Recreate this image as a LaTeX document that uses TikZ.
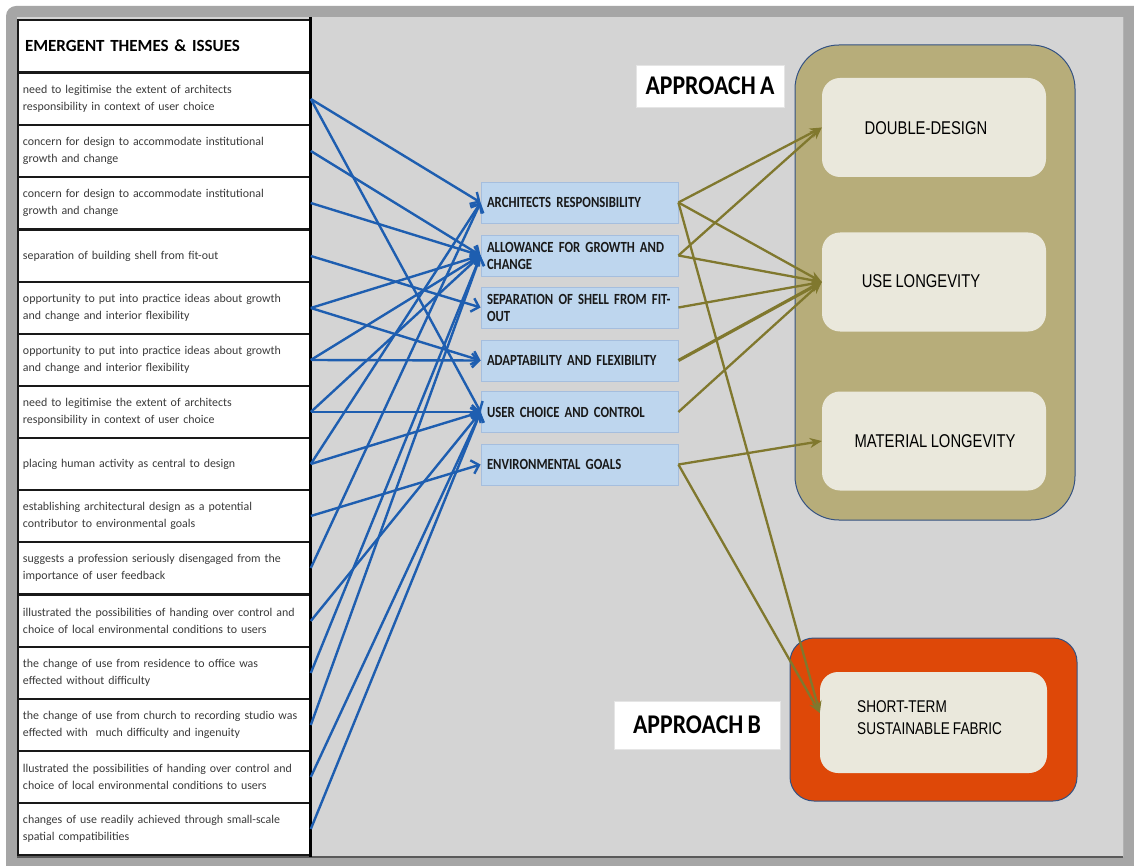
\documentclass[tikz,border=0pt]{standalone}
\usepackage{fontspec}
\setmainfont{Carlito}
\newfontfamily\boxfont{Carlito}[FakeStretch=0.82,WordSpace=0.55]
\newfontfamily\labelfont{Carlito}[FakeStretch=0.88,WordSpace=0.8]
\newfontfamily\headfont{Carlito}[WordSpace=0.75]
\newfontfamily\capfont{Liberation Sans}[FakeStretch=0.8,WordSpace=0.8]
\usetikzlibrary{arrows.meta}

\definecolor{framegray}{RGB}{166,166,166}
\definecolor{canvas}{RGB}{212,212,212}
\definecolor{linkblue}{RGB}{30,94,176}
\definecolor{linkolive}{RGB}{128,120,46}
\definecolor{themefill}{RGB}{190,214,238}
\definecolor{themeedge}{RGB}{165,190,222}
\definecolor{khaki}{RGB}{183,173,122}
\definecolor{cream}{RGB}{234,232,220}
\definecolor{burnt}{RGB}{222,72,8}
\definecolor{rim}{RGB}{52,82,130}
\definecolor{celltext}{RGB}{58,58,58}

\begin{document}
\begin{tikzpicture}[x=1pt,y=-1pt,
  cell/.style={draw=black!90, line width=1.6pt, fill=white,
    minimum width=292pt, minimum height=52pt, text width=282pt,
    inner xsep=5pt, inner ysep=0pt, align=left,
    font=\fontsize{11.9}{17}\selectfont, text=celltext},
  theme/.style={draw=themeedge, line width=0.8pt, fill=themefill,
    minimum width=197pt, minimum height=41pt, text width=185pt,
    inner xsep=6pt, inner ysep=0pt, align=left,
    font=\boxfont\bfseries\fontsize{15.5}{17}\selectfont, text=black!90},
  group/.style={draw=rim, line width=1pt, inner sep=0pt},
  sub/.style={fill=cream, rounded corners=18pt, minimum width=224pt,
    minimum height=99pt, inner sep=0pt},
  subtext/.style={font=\capfont\fontsize{18.5}{22}\selectfont, text=black,
    inner sep=0pt, align=left},
  tag/.style={fill=white, draw=black!10, line width=0.5pt, inner sep=0pt,
    font=\labelfont\bfseries\fontsize{27}{30}\selectfont},
  blink/.style={draw=linkblue, line width=2.4pt,
    -{Straight Barb[length=7pt,width=14pt]}},
  olink/.style={draw=linkolive, line width=2.3pt,
    -{Stealth[length=12pt,width=10pt]}}
]
\useasboundingbox (0,0) rectangle (1134,866);

% frame and canvas
\fill[white] (0,0) rectangle (1134,866);
\fill[framegray, rounded corners=10pt] (6,6) rectangle (1150,880);
\fill[canvas] (17,17) rectangle (1123,857);
\draw[black!65, line width=1.5pt] (17,857) -- (1123,857);
\draw[black!30, line width=1pt] (1123,17) -- (1123,857);

% themes column
\node[cell, inner xsep=7pt, text width=278pt, font=\headfont\bfseries\fontsize{17}{20}\selectfont, text=black] (hd) at (164,46) {EMERGENT THEMES \& ISSUES};
\node[cell] (r1)  at (164,99)  {need to legitimise the extent of architects\\responsibility in context of user choice};
\node[cell] (r2)  at (164,151) {concern for design to accommodate institutional\\growth and change};
\node[cell] (r3)  at (164,203) {concern for design to accommodate institutional\\growth and change};
\node[cell] (r4)  at (164,256) {separation of building shell from fit-out};
\node[cell] (r5)  at (164,308) {opportunity to put into practice ideas about growth\\and change and interior flexibility};
\node[cell] (r6)  at (164,360) {opportunity to put into practice ideas about growth\\and change and interior flexibility};
\node[cell] (r7)  at (164,412) {need to legitimise the extent of architects\\responsibility in context of user choice};
\node[cell] (r8)  at (164,464) {placing human activity as central to design};
\node[cell] (r9)  at (164,516) {establishing architectural design as a potential\\contributor to environmental goals};
\node[cell] (r10) at (164,568) {suggests a profession seriously disengaged from the\\importance of user feedback};
\node[cell] (r11) at (164,621) {illustrated the possibilities of handing over control and\\choice of local environmental conditions to users};
\node[cell] (r12) at (164,673) {the change of use from residence to office was\\effected without difficulty};
\node[cell] (r13) at (164,725) {the change of use from church to recording studio was\\effected with\ \ much difficulty and ingenuity};
\node[cell] (r14) at (164,777) {llustrated the possibilities of handing over control and\\choice of local environmental conditions to users};
\node[cell] (r15) at (164,829) {changes of use readily achieved through small-scale\\spatial compatibilities};
\draw[black, line width=3pt] (310,17) -- (310,857);

% design concerns
\node[theme] (ar) at (579.5,202.5) {ARCHITECTS RESPONSIBILITY};
\node[theme] (ag) at (579.5,255.5) {ALLOWANCE FOR GROWTH AND\\CHANGE};
\node[theme] (ss) at (579.5,307.5) {SEPARATION OF SHELL FROM FIT-\\OUT};
\node[theme] (af) at (579.5,360.5) {ADAPTABILITY AND FLEXIBILITY};
\node[theme] (uc) at (579.5,412)   {USER CHOICE AND CONTROL};
\node[theme] (eg) at (579.5,464.5) {ENVIRONMENTAL GOALS};

% approach A
\node[tag, minimum width=148pt, minimum height=42pt] (lblA) at (710,86) {APPROACH A};
\node[group, fill=khaki, rounded corners=44pt, minimum width=280pt, minimum height=475pt] (grpA) at (935,282.5) {};
\node[sub] (dd) at (934,127.5) {};
\node[sub] (ul) at (934,282) {};
\node[sub] (ml) at (934,441) {};
\node[subtext] (ddt) at (926,128) {DOUBLE-DESIGN};
\node[subtext] (ult) at (921,281) {USE LONGEVITY};
\node[subtext] (mlt) at (935,441) {MATERIAL LONGEVITY};

% approach B
\node[tag, minimum width=166pt, minimum height=48pt] (lblB) at (697,725) {APPROACH B};
\node[group, fill=burnt, rounded corners=24pt, minimum width=287pt, minimum height=163pt] (grpB) at (933.5,719.5) {};
\node[sub, minimum width=227pt, minimum height=101pt] (st) at (933.5,722.5) {};
\node[subtext, anchor=west, font=\capfont\fontsize{17}{22}\selectfont] (stt) at (857,718) {SHORT-TERM\\SUSTAINABLE FABRIC};

% themes to design concerns
\foreach \a/\b in {r1/ar, r1/uc, r2/ag, r3/ag, r4/ss, r5/ag, r5/af, r6/af, r6/ag,
                   r7/uc, r7/ag, r8/uc, r8/ar, r9/eg, r10/ar, r11/uc, r12/ag,
                   r13/ag, r14/uc, r15/uc}
  \draw[blink] (\a.east) -- (\b.west);

% design concerns to approaches
\draw[olink] (ar.east) -- (dd.west);
\draw[olink] (ar.east) -- (ul.west);
\draw[olink] (ag.east) -- (dd.west);
\draw[olink] (ag.east) -- (ul.west);
\draw[olink] (ss.east) -- (ul.west);
\draw[olink, line width=3.2pt] (af.east) -- (ul.west);
\draw[olink] (uc.east) -- (ul.west);
\draw[olink] (eg.east) -- (ml.west);
\draw[olink] (ar.east) -- ([yshift=9.5pt]st.west);
\draw[olink] (eg.east) -- ([yshift=9.5pt]st.west);
\end{tikzpicture}
\end{document}
